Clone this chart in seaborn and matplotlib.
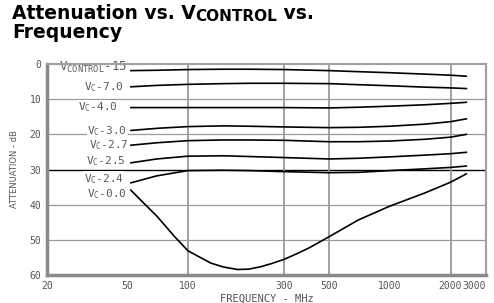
import numpy as np
import pandas as pd
import matplotlib
matplotlib.use("Agg")
import matplotlib.pyplot as plt
import seaborn as sns

# Dữ liệu (suy hao dB theo tần số MHz)
freq = [52, 70, 100, 150, 200, 300, 500, 700, 1000, 1500, 2000, 2400]
att_m15 = [1.9, 1.8, 1.6, 1.5, 1.5, 1.6, 1.9, 2.2, 2.5, 2.9, 3.2, 3.5]
att_m70 = [6.5, 6.1, 5.8, 5.6, 5.5, 5.5, 5.6, 5.9, 6.2, 6.6, 6.8, 7.0]
att_m40 = [12.4, 12.4, 12.4, 12.4, 12.4, 12.4, 12.5, 12.3, 12.0, 11.6, 11.2, 10.9]
att_m30 = [18.9, 18.3, 17.8, 17.6, 17.7, 17.9, 18.1, 18.0, 17.7, 17.1, 16.4, 15.6]
att_m27 = [23.1, 22.4, 21.8, 21.6, 21.6, 21.7, 22.1, 22.1, 21.9, 21.4, 20.8, 20.0]
att_m25 = [28.1, 27.0, 26.2, 26.1, 26.3, 26.6, 27.0, 26.8, 26.4, 25.9, 25.5, 25.1]
att_m24 = [33.8, 31.8, 30.3, 30.2, 30.3, 30.6, 30.9, 30.8, 30.3, 29.8, 29.4, 29.0]

freq_00 = [52, 60, 70, 85, 100, 130, 150, 176, 200, 230, 260, 300, 350, 400, 500, 700, 1000, 1500, 2000, 2400]
att_00 = [35.8, 39.4, 43.2, 48.8, 53.1, 56.6, 57.7, 58.4, 58.3, 57.6, 56.7, 55.5, 53.8, 52.2, 49.1, 44.3, 40.4, 36.6, 33.6, 31.2]

curve_labels = [r"V$_{\rm CONTROL}$-15", r"V$_{\rm C}$-7.0", r"V$_{\rm C}$-4.0", r"V$_{\rm C}$-3.0",
                r"V$_{\rm C}$-2.7", r"V$_{\rm C}$-2.5", r"V$_{\rm C}$-2.4", r"V$_{\rm C}$-0.0"]
label_x = [50, 48, 45, 50, 51, 49, 48, 50]
label_y = [1.0, 6.6, 12.3, 19.0, 23.0, 27.7, 32.6, 36.9]
label_size = [9, 8, 8, 8, 8, 8, 8, 8]

x_ticks = [20, 50, 100, 300, 500, 1000, 2000, 3000]
y_ticks = [0, 10, 20, 30, 40, 50, 60]

# gom thành bảng dài cho seaborn
flat = [att_m15, att_m70, att_m40, att_m30, att_m27, att_m25, att_m24]
rows = []
for i, att in enumerate(flat):
    for f, a in zip(freq, att):
        rows.append((curve_labels[i], f, a))
for f, a in zip(freq_00, att_00):
    rows.append((curve_labels[7], f, a))
df = pd.DataFrame(rows, columns=["curve", "freq", "atten"])

sns.set_theme(style="white")
plt.rcParams["font.family"] = ["DejaVu Sans"]
plt.rcParams["mathtext.fontset"] = "custom"
plt.rcParams["mathtext.rm"] = "DejaVu Sans Mono"

fig = plt.figure(figsize=(4.94, 3.03), dpi=100)
ax = fig.add_axes([0.095, 0.092, 0.889, 0.697])

grid_c = "#9a9a9a"
for yv in [10, 20, 40, 50]:
    ax.axhline(yv, color=grid_c, lw=0.9, zorder=0)
ax.axhline(30, color="black", lw=1.0, zorder=0)
for xv in [100, 300, 500, 2000]:
    ax.axvline(xv, color=grid_c, lw=1.3, zorder=0)

sns.lineplot(data=df, x="freq", y="atten", units="curve", estimator=None,
             color="black", lw=1.2, sort=False, ax=ax, zorder=3)

for lab, lx, ly, fs in zip(curve_labels, label_x, label_y, label_size):
    ax.text(lx, ly, lab, ha="right", va="center", fontsize=fs, color="#5a5a5a",
            family="DejaVu Sans Mono", zorder=2,
            bbox=dict(facecolor="white", edgecolor="none", pad=0.5))

ax.set_xscale("log")
ax.set_xlim(20, 3000)
ax.set_ylim(60, 0)
ax.set_xticks(x_ticks)
ax.set_xticklabels([str(t) for t in x_ticks])
ax.minorticks_off()
ax.set_yticks(y_ticks)
ax.tick_params(axis="both", length=0, labelsize=7, labelcolor="#555555", pad=4)
for lab in ax.get_xticklabels() + ax.get_yticklabels():
    lab.set_family("DejaVu Sans Mono")
ax.get_xticklabels()[-1].set_ha("right")
ax.set_xlabel("FREQUENCY - MHz", fontsize=7.5, color="#555555", labelpad=2,
              family="DejaVu Sans Mono")
ax.set_ylabel("ATTENUATION - dB", fontsize=6, color="#555555", labelpad=8)

for s in ["top", "right"]:
    ax.spines[s].set_color("#a0a0a0")
    ax.spines[s].set_linewidth(1.5)
for s in ["left", "bottom"]:
    ax.spines[s].set_color("#8a8a8a")
    ax.spines[s].set_linewidth(2.5)

# tiêu đề: ghép từng mảnh để chữ CONTROL nhỏ hơn
r = fig.canvas.get_renderer()
t1 = fig.text(0.024, 0.936, "Attenuation vs. V", fontsize=13.5, fontweight="bold",
              ha="left", va="baseline", color="black")
bb = t1.get_window_extent(r).transformed(fig.transFigure.inverted())
t2 = fig.text(bb.x1, 0.932, "CONTROL", fontsize=11, fontweight="bold",
              ha="left", va="baseline", color="black")
bb2 = t2.get_window_extent(r).transformed(fig.transFigure.inverted())
fig.text(bb2.x1, 0.936, " vs.", fontsize=13.5, fontweight="bold",
         ha="left", va="baseline", color="black")
fig.text(0.024, 0.876, "Frequency", fontsize=13.5, fontweight="bold",
         ha="left", va="baseline", color="black")

fig.savefig("out.png", dpi=100)
